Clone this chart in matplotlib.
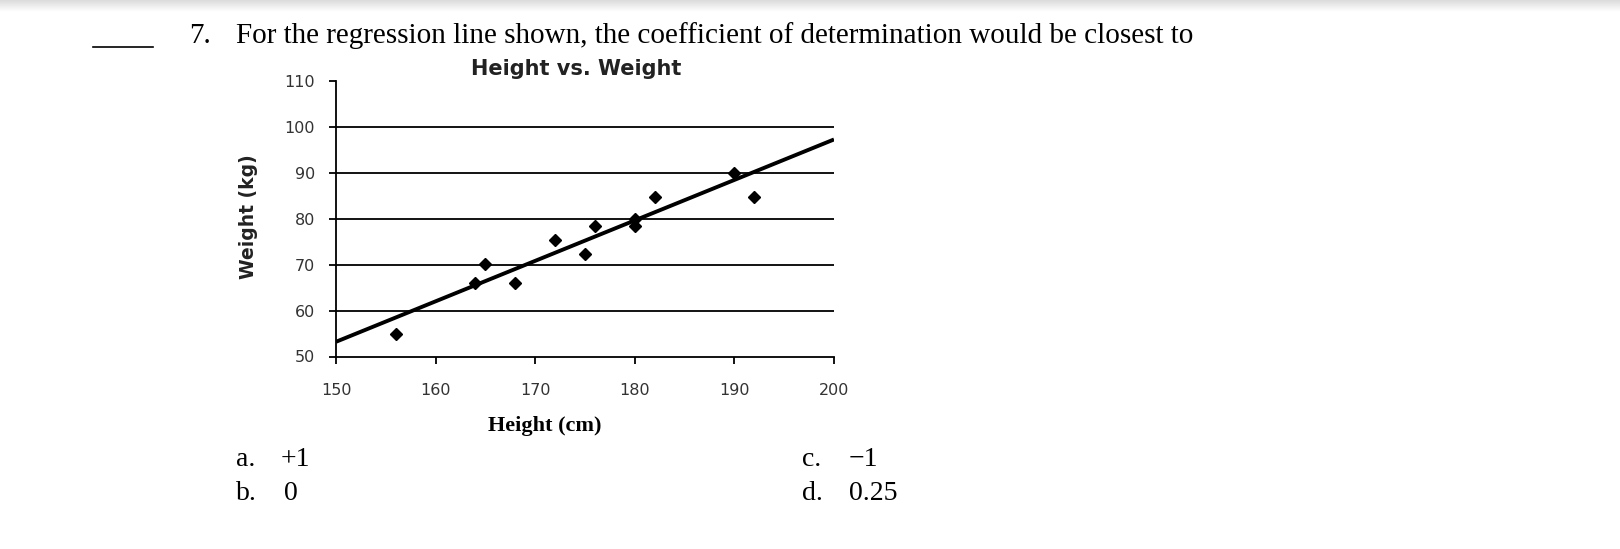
import numpy as np
import matplotlib
matplotlib.use("Agg")
import matplotlib.pyplot as plt
from matplotlib.lines import Line2D

# ---- data ----
heights = [156, 164, 165, 168, 172, 175, 176, 180, 180, 182, 190, 192]
weights = [55, 66, 70.2, 66, 75.3, 72.2, 78.3, 80, 78.3, 84.7, 89.8, 84.7]
line_x = [150, 200]
line_y = [53.2, 97.2]
x_ticks = [150, 160, 170, 180, 190, 200]
y_ticks = [50, 60, 70, 80, 90, 100, 110]
grid_levels = [60, 70, 80, 90, 100]

question = "For the regression line shown, the coefficient of determination would be closest to"
option_letters = ["a.", "b.", "c.", "d."]
option_values = ["+1", "0", "\u22121", "0.25"]

W, H = 1620, 549
fig = plt.figure(figsize=(W / 100, H / 100), dpi=100)
fig.patch.set_facecolor("white")

def fx(px):
    return px / W

def fy(py):
    return 1 - py / H

# top shadow band
sh = fig.add_axes([0, fy(12), 1, 12 / H])
grad = np.linspace(0.86, 1.0, 50).reshape(-1, 1)
sh.imshow(np.repeat(grad, 2, axis=1), cmap="gray", vmin=0, vmax=1, aspect="auto",
          extent=[0, 1, 0, 1])
sh.axis("off")

# ---- main axes ----
left, right = 336, 834
top, bottom = 80.6, 356.5
ax = fig.add_axes([fx(left), fy(bottom), (right - left) / W, (bottom - top) / H])
ax.set_xlim(150, 200)
ax.set_ylim(50, 110)
for g in grid_levels:
    ax.axhline(g, color="black", lw=1.3, zorder=1)
ax.plot(line_x, line_y, color="black", lw=2.8, zorder=2, solid_capstyle="butt")
ax.plot(heights, weights, linestyle="none", marker="D", color="black",
        markersize=6.5, zorder=3)

for s in ["top", "right"]:
    ax.spines[s].set_visible(False)
for s in ["left", "bottom"]:
    ax.spines[s].set_linewidth(1.3)
    ax.spines[s].set_color("black")
ax.set_xticks(x_ticks)
ax.set_yticks(y_ticks)
ax.tick_params(axis="y", direction="out", length=5, width=1.3, pad=10,
               labelsize=11.5, labelcolor="#333333")
ax.tick_params(axis="x", direction="out", length=5, width=1.3, pad=14,
               labelsize=11.5, labelcolor="#333333")
for lab in ax.get_xticklabels() + ax.get_yticklabels():
    lab.set_fontfamily("DejaVu Sans")
ax.set_clip_on(False)

# title and axis labels
fig.text(fx(576), fy(69), "Height vs. Weight", ha="center", va="center",
         fontsize=15, fontweight="bold", family="DejaVu Sans", color="#222222")
fig.text(fx(248), fy(217), "Weight (kg)", ha="center", va="center", rotation=90,
         fontsize=13.5, fontweight="bold", family="DejaVu Sans", color="#222222")
fig.text(fx(545), fy(426), "Height (cm)", ha="center", va="center",
         fontsize=16, fontweight="bold", family="Liberation Serif", color="black")

# question
fig.add_artist(Line2D([fx(93), fx(153)], [fy(47), fy(47)], color="black", lw=1.2))
fig.text(fx(189), fy(36), "7.", ha="left", va="center", fontsize=21,
         family="Liberation Serif")
fig.text(fx(235.6), fy(36), question, ha="left", va="center", fontsize=21,
         family="Liberation Serif")

# options
opt_pos = [(235.6, 281, 459), (235.6, 284, 494), (801.8, 849, 459), (801.8, 849, 494)]
for letter, val, (lx, vx, yy) in zip(option_letters, option_values, opt_pos):
    fig.text(fx(lx), fy(yy), letter, ha="left", va="center", fontsize=20,
             family="Liberation Serif")
    fig.text(fx(vx), fy(yy), val, ha="left", va="center", fontsize=20,
             family="Liberation Serif")

fig.savefig("out.png", dpi=100, facecolor="white")
